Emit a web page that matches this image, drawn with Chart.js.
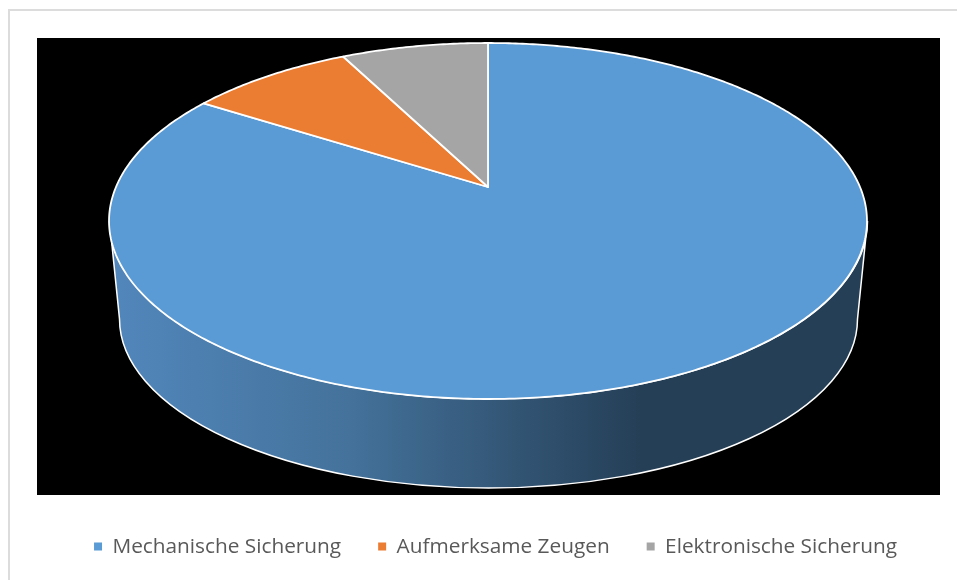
<!DOCTYPE html>
<html lang="de">
<head>
<meta charset="utf-8">
<title>Sicherung</title>
<script src="https://cdn.jsdelivr.net/npm/chart.js@4"></script>
<style>
  html, body { margin: 0; background: #fff; overflow: hidden; }
  #wrap { position: relative; width: 957px; height: 580px; overflow: hidden; }
  #frame { position: absolute; left: 8px; top: 9px; width: 960px; height: 590px; border: 2px solid #dcdcdc; }
  canvas { position: absolute; left: 0; top: 0; }
</style>
</head>
<body>
<div id="wrap">
  <div id="frame"></div>
  <canvas id="chart" width="957" height="567"></canvas>
</div>
<script>
const categories = ["Mechanische Sicherung", "Aufmerksame Zeugen", "Elektronische Sicherung"];
const shares = [84.8, 8.5, 7.6];
const sliceColors = ["#5B9BD5", "#EB7D33", "#A5A5A5"];

// the top of the pie is seen in perspective, so the apex is not the middle of the ellipse
const TOP = { cx: 488, cy: 187, a: 372, b: 171.5, k: 0.191 };
const BOTTOM = { cx: 488.5, cy: 319, rx: 369, ry: 169 };
const RIM = { cy: 221, rx: 379, ry: 178 };

function project(angle) {
  const u = Math.cos(angle), v = Math.sin(angle);
  const w = 1 - TOP.k * v;
  return [TOP.cx + TOP.a * u / w, TOP.cy + TOP.b * v / w];
}

const pie3d = {
  id: "pie3d",
  beforeDatasetsDraw(chart) {
    const ctx = chart.ctx;
    ctx.save();
    ctx.fillStyle = "#000";
    ctx.fillRect(37, 38, 903, 457);

    // side wall
    const grad = ctx.createLinearGradient(110, 0, 640, 0);
    grad.addColorStop(0, "#5287BC");
    grad.addColorStop(0.45, "#44729B");
    grad.addColorStop(1, "#253F57");
    ctx.beginPath();
    ctx.ellipse(BOTTOM.cx, RIM.cy, RIM.rx, RIM.ry, 0, 0, Math.PI);
    ctx.lineTo(BOTTOM.cx - BOTTOM.rx, BOTTOM.cy);
    ctx.ellipse(BOTTOM.cx, BOTTOM.cy, BOTTOM.rx, BOTTOM.ry, 0, Math.PI, 0, true);
    ctx.closePath();
    ctx.fillStyle = grad;
    ctx.fill();
    ctx.strokeStyle = "#fff";
    ctx.lineWidth = 1.5;
    ctx.stroke();
    ctx.restore();
  },
  beforeDatasetDraw(chart) {
    const ctx = chart.ctx;
    const arcs = chart.getDatasetMeta(0).data;
    ctx.save();
    ctx.lineJoin = "round";
    arcs.forEach((arc, i) => {
      ctx.beginPath();
      ctx.moveTo(TOP.cx, TOP.cy);
      const steps = Math.ceil((arc.endAngle - arc.startAngle) * 90);
      for (let s = 0; s <= steps; s++) {
        const p = project(arc.startAngle + (arc.endAngle - arc.startAngle) * s / steps);
        ctx.lineTo(p[0], p[1]);
      }
      ctx.closePath();
      ctx.fillStyle = sliceColors[i];
      ctx.fill();
      ctx.strokeStyle = "#fff";
      ctx.lineWidth = 1.8;
      ctx.stroke();
    });
    ctx.restore();
    return false; // default round arcs are replaced by the projected ones
  }
};

new Chart(document.getElementById("chart"), {
  type: "pie",
  data: {
    labels: categories,
    datasets: [{ data: shares, backgroundColor: sliceColors, borderWidth: 0 }]
  },
  options: {
    responsive: false,
    animation: false,
    // left/right also centre the legend, which sits right of the pie's middle
    layout: { padding: { left: 44, right: 10, top: 38, bottom: 0 } },
    plugins: {
      tooltip: { enabled: false },
      legend: {
        position: "bottom",
        labels: {
          boxWidth: 8,
          boxHeight: 8,
          padding: 37,
          color: "#595959",
          font: { family: "'Open Sans'", size: 20.8 }
        }
      }
    }
  },
  plugins: [pie3d]
});
</script>
</body>
</html>
